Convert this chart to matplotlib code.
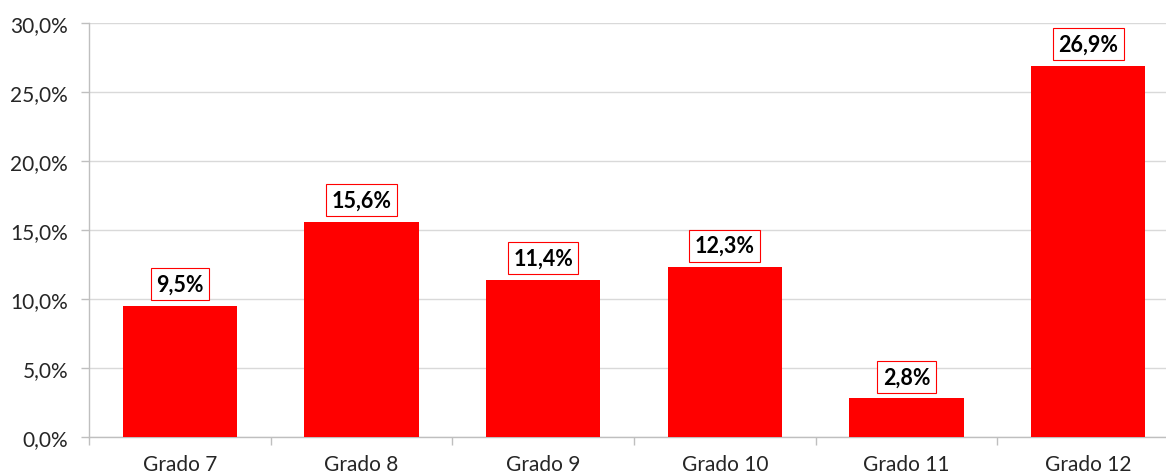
import matplotlib
matplotlib.use("Agg")
import matplotlib.pyplot as plt
from matplotlib.ticker import FixedLocator, FuncFormatter

categories = ["Grado 7", "Grado 8", "Grado 9", "Grado 10", "Grado 11", "Grado 12"]
values = [9.5, 15.6, 11.4, 12.3, 2.8, 26.9]
yticks = [0, 5, 10, 15, 20, 25, 30]

plt.rcParams['font.family'] = ['Lato', 'DejaVu Sans']

fig = plt.figure(figsize=(11.66, 4.77), dpi=100)
ax = fig.add_axes([89/1166, 1 - 438/477, 1090/1166, (438 - 24)/477])

x = list(range(len(categories)))
ax.bar(x, values, width=0.63, color="#ff0000", zorder=3)

ax.set_xlim(-0.5, len(categories) - 0.5)
ax.set_ylim(0, 30)
ax.set_yticks(yticks)
ax.yaxis.set_major_formatter(FuncFormatter(lambda v, p: f"{v:.1f}%".replace(".", ",")))
ax.grid(axis="y", color="#d9d9d9", linewidth=1, zorder=0)

ax.set_xticks(x)
ax.set_xticklabels(categories, fontsize=15, color="#262626")
ax.xaxis.set_minor_locator(FixedLocator([i - 0.5 for i in range(len(categories) + 1)]))
ax.tick_params(axis="x", which="major", length=0, pad=12)
ax.tick_params(axis="x", which="minor", length=6, color="#bfbfbf", width=1)
ax.tick_params(axis="y", length=6, color="#bfbfbf", width=1, labelsize=15, labelcolor="#262626", pad=9)

for s in ["top", "right"]:
    ax.spines[s].set_visible(False)
for s in ["left", "bottom"]:
    ax.spines[s].set_color("#bfbfbf")
    ax.spines[s].set_linewidth(1)

for xi, v in zip(x, values):
    ax.annotate(f"{v:.1f}%".replace(".", ","), (xi, v), xytext=(0, 8), textcoords="offset points",
                ha="center", va="bottom", fontsize=15.5, fontweight="bold", color="black",
                bbox=dict(boxstyle="square,pad=0.25", facecolor="white", edgecolor="#ff0000", linewidth=0.8),
                zorder=5)

fig.savefig("out.png", dpi=100)
